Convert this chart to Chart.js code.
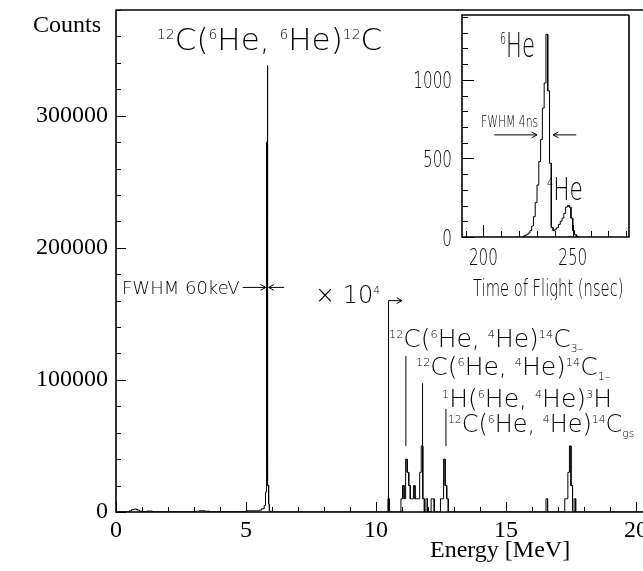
<!DOCTYPE html>
<html>
<head>
<meta charset="utf-8">
<script src="https://cdn.jsdelivr.net/npm/chart.js@4.4.1/dist/chart.umd.min.js"></script>
<style>
  html, body { margin: 0; padding: 0; background: #fff; }
  #wrap { position: relative; width: 643px; height: 571px; overflow: hidden; }
  #main { position: absolute; left: 0; top: 0; }
  #inset { position: absolute; left: 400px; top: 0; }
</style>
</head>
<body>
<div id="wrap">
  <canvas id="main" width="643" height="571"></canvas>
  <canvas id="inset" width="243" height="300"></canvas>
</div>
<script>
// ---- energy spectrum below 6 MeV: bin edges (MeV) and counts
var lowEdges  = [0, 0.5, 0.6, 0.7, 0.8, 0.9, 1.0, 1.2, 1.4, 3.0, 3.2, 3.4, 3.6, 3.8, 5.0,
                 5.5, 5.6, 5.7, 5.75, 5.79, 5.81, 5.84, 5.87, 5.9, 6.0];
var lowCounts = [150, 800, 1800, 2200, 1500, 600, 300, 700, 150, 500, 900, 600, 200, 200,
                 900, 1400, 2500, 5000, 15000, 280000, 338000, 20000, 6000, 500];

// ---- (6He,4He) part, drawn x 10^4: bin start (MeV) and raw counts
var highBinWidth = 0.06;
var highScale = 1e4;
var highStart  = [10.46, 10.96, 11.02, 11.08, 11.14, 11.20, 11.26, 11.32, 11.38, 11.44, 11.50,
                  11.56, 11.62, 11.68, 11.74, 11.80, 11.92, 12.12, 12.18, 12.48, 12.54, 12.60,
                  12.66, 12.72, 16.54, 17.26, 17.32, 17.38, 17.44, 17.50, 17.62];
var highCounts = [1, 1, 2, 1, 4, 3, 2, 1, 1, 2, 1,
                  1, 1, 3, 5, 1, 1, 1, 1, 1, 1, 4,
                  2, 1, 1, 1, 1, 3, 5, 2, 1];

// ---- inset: time of flight, 1 ns bins
var tofStart  = [222, 223, 224, 225, 226, 227, 228, 229, 230, 231, 232, 233, 234, 235, 236,
                 237, 238, 239, 240, 241, 242, 243, 244, 245, 246, 247, 248, 249, 250, 251, 252];
var tofCounts = [5, 10, 15, 25, 40, 70, 130, 220, 330, 480, 620, 820, 980, 1290, 930,
                 470, 60, 40, 50, 60, 80, 100, 120, 150, 190, 200, 190, 120, 40, 15, 5];
var tofBinWidth = 1;

// axis ranges
var energyRange = [0, 20.27];
var countsRange = [0, 380000];
var tofRange = [188, 281.5];
var tofCountRange = [0, 1413];

var SANS = "'DejaVu Sans', sans-serif";
var SERIF = "'Liberation Serif', 'Times New Roman', serif";

// histogram outline from edges/counts
function histFromEdges(edges, counts, scale) {
  var pts = [{x: edges[0], y: 0}];
  for (var i = 0; i < counts.length; i++) {
    pts.push({x: edges[i], y: counts[i] * scale});
    pts.push({x: edges[i + 1], y: counts[i] * scale});
  }
  pts.push({x: edges[edges.length - 1], y: 0});
  return pts;
}
function histFromBins(starts, counts, w, scale) {
  var pts = [];
  for (var i = 0; i < starts.length; i++) {
    var s = starts[i], e = s + w, v = counts[i] * scale;
    var joined = i > 0 && Math.abs(starts[i - 1] + w - s) < 1e-6;
    if (!joined) pts.push({x: s, y: 0});
    pts.push({x: s, y: v});
    pts.push({x: e, y: v});
    var next = i + 1 < starts.length && Math.abs(starts[i + 1] - e) < 1e-6;
    if (!next) pts.push({x: e, y: 0});
  }
  return pts;
}

var spectrum = histFromEdges(lowEdges, lowCounts, 1)
  .concat(histFromBins(highStart, highCounts, highBinWidth, highScale));
spectrum.push({x: energyRange[1], y: 0});
var tof = histFromBins(tofStart, tofCounts, tofBinWidth, 1);

// rich text: ^{..} superscript, _{..} subscript
function drawRich(ctx, str, x, y, size, o) {
  o = o || {};
  var sx = o.sx || 1, fam = o.family || SANS, wt = o.weight || '200';
  var re = /([\^_])\{([^}]*)\}|([^\^_]+)/g, m, parts = [];
  while ((m = re.exec(str))) parts.push(m[3] ? {t: m[3], k: ''} : {t: m[2], k: m[1]});
  ctx.save();
  ctx.translate(x, y);
  ctx.scale(sx, 1);
  ctx.fillStyle = '#000';
  ctx.textBaseline = 'alphabetic';
  ctx.textAlign = 'left';
  var cx = 0;
  parts.forEach(function (p) {
    var s = p.k ? size * 0.45 : size;
    var dy = p.k === '^' ? -size * 0.37 : (p.k === '_' ? size * 0.2 : 0);
    ctx.font = wt + ' ' + s + 'px ' + fam;
    ctx.fillText(p.t, cx, dy);
    cx += ctx.measureText(p.t).width;
  });
  ctx.restore();
}

function arrow(ctx, x1, y1, x2, y2, head) {
  var a = Math.atan2(y2 - y1, x2 - x1), h = head || 6;
  ctx.beginPath();
  ctx.moveTo(x1, y1); ctx.lineTo(x2, y2);
  ctx.moveTo(x2 - h * Math.cos(a - 0.5), y2 - h * Math.sin(a - 0.5));
  ctx.lineTo(x2, y2);
  ctx.lineTo(x2 - h * Math.cos(a + 0.5), y2 - h * Math.sin(a + 0.5));
  ctx.stroke();
}

// inward ticks + frame
function drawFrame(chart, o) {
  var ctx = chart.ctx, a = chart.chartArea, sx = chart.scales.x, sy = chart.scales.y;
  ctx.save();
  ctx.strokeStyle = '#000';
  ctx.lineWidth = o.tickWidth;
  sx.ticks.forEach(function (t) {
    var px = Math.round(sx.getPixelForValue(t.value)) + 0.5;
    var len = o.xMajor(t.value) ? o.majorLen : o.minorLen;
    ctx.beginPath(); ctx.moveTo(px, a.bottom); ctx.lineTo(px, a.bottom - len); ctx.stroke();
  });
  sy.ticks.forEach(function (t) {
    var py = Math.round(sy.getPixelForValue(t.value)) + 0.5;
    var len = o.yMajor(t.value) ? o.majorLen : o.minorLen;
    ctx.beginPath(); ctx.moveTo(a.left, py); ctx.lineTo(a.left + len, py); ctx.stroke();
  });
  ctx.lineWidth = o.frameWidth;
  ctx.beginPath();
  ctx.moveTo(o.topRight, a.top); ctx.lineTo(a.left, a.top);
  ctx.lineTo(a.left, a.bottom); ctx.lineTo(a.right, a.bottom);
  if (o.closed) ctx.lineTo(a.right, a.top);
  ctx.stroke();
  ctx.restore();
}

var mainPlugin = {
  id: 'mainDecor',
  afterDraw: function (chart) {
    var ctx = chart.ctx, sx = chart.scales.x, sy = chart.scales.y;
    drawFrame(chart, {
      tickWidth: 1, frameWidth: 1.6, majorLen: 10, minorLen: 5, topRight: 643, closed: false,
      xMajor: function (v) { return v % 5 === 0; },
      yMajor: function (v) { return v % 100000 === 0; }
    });
    var X = function (v) { return sx.getPixelForValue(v); };
    var Y = function (v) { return sy.getPixelForValue(v); };
    ctx.save();
    ctx.strokeStyle = '#000';
    ctx.lineWidth = 1;
    // x 10^4 marker
    ctx.beginPath();
    ctx.moveTo(X(10.48), Y(0)); ctx.lineTo(X(10.48), Y(160000)); ctx.stroke();
    arrow(ctx, X(10.48), Y(160000), X(11.0), Y(160000), 6);
    // FWHM arrows
    arrow(ctx, X(4.87), Y(170000), X(5.76), Y(170000), 6);
    arrow(ctx, X(6.47), Y(170000), X(5.87), Y(170000), 6);
    // pointer lines under reaction labels
    [[11.15, 118000], [11.79, 97500], [12.69, 78000]].forEach(function (p) {
      ctx.beginPath(); ctx.moveTo(X(p[0]), Y(p[1])); ctx.lineTo(X(p[0]), Y(50000)); ctx.stroke();
    });
    ctx.restore();

    // labels
    ctx.save();
    ctx.fillStyle = '#000';
    ctx.font = '24px ' + SERIF;
    ctx.textBaseline = 'alphabetic';
    ctx.fillText('Counts', 33, 32);
    ctx.fillText('Energy [MeV]', 430, 557);
    ctx.restore();
    drawRich(ctx, '^{12}C(^{6}He, ^{6}He)^{12}C', 157, 50, 31);
    drawRich(ctx, 'FWHM 60keV', 122, 294, 18);
    drawRich(ctx, '\u00d7 10^{4}', 315, 303, 24);
    drawRich(ctx, '^{12}C(^{6}He, ^{4}He)^{14}C_{3\u2013}', 389, 347, 25);
    drawRich(ctx, '^{12}C(^{6}He, ^{4}He)^{14}C_{1\u2013}', 416, 375, 25);
    drawRich(ctx, '^{1}H(^{6}He, ^{4}He)^{3}H', 442, 407, 25);
    drawRich(ctx, '^{12}C(^{6}He, ^{4}He)^{14}C_{gs}', 448, 432, 25, {sx: 0.96});
  }
};

new Chart(document.getElementById('main'), {
  type: 'line',
  data: {
    datasets: [{
      data: spectrum,
      borderColor: '#000',
      borderWidth: 1,
      pointRadius: 0,
      tension: 0,
      fill: false
    }]
  },
  options: {
    responsive: false,
    animation: false,
    devicePixelRatio: 1,
    layout: { padding: { top: 10, right: 0, left: 0, bottom: 0 } },
    plugins: { legend: { display: false }, tooltip: { enabled: false } },
    scales: {
      x: {
        type: 'linear',
        min: energyRange[0], max: energyRange[1],
        grid: { display: false, drawTicks: false },
        border: { display: false },
        ticks: {
          stepSize: 1, includeBounds: false, autoSkip: false, maxRotation: 0,
          padding: 4, color: '#000', font: { family: SERIF, size: 24 },
          callback: function (v) { return v % 5 === 0 ? String(v) : ''; }
        },
        afterFit: function (s) { s.height = 59; s.paddingLeft = 0; s.paddingRight = 0; }
      },
      y: {
        type: 'linear',
        min: countsRange[0], max: countsRange[1],
        grid: { display: false, drawTicks: false },
        border: { display: false },
        ticks: {
          stepSize: 20000, includeBounds: false, autoSkip: false,
          padding: 8, color: '#000', font: { family: SERIF, size: 24 },
          callback: function (v) { return v % 100000 === 0 ? String(v) : ''; }
        },
        afterFit: function (s) { s.width = 116; s.paddingTop = 0; s.paddingBottom = 0; }
      }
    }
  },
  plugins: [mainPlugin]
});

// ---- inset
var insetPlugin = {
  id: 'insetDecor',
  afterDraw: function (chart) {
    var ctx = chart.ctx, sx = chart.scales.x, sy = chart.scales.y, a = chart.chartArea;
    drawFrame(chart, {
      tickWidth: 1, frameWidth: 1.6, majorLen: 12, minorLen: 6, topRight: a.right, closed: true,
      xMajor: function (v) { return v % 50 === 0; },
      yMajor: function (v) { return v % 500 === 0; }
    });
    var X = function (v) { return sx.getPixelForValue(v); };
    var Y = function (v) { return sy.getPixelForValue(v); };
    var cond = 0.66;
    ctx.save();
    ctx.font = '200 23px ' + SANS;
    sy.ticks.forEach(function (t) {
      if (t.value % 500 !== 0) return;
      var s = String(t.value), w = ctx.measureText(s).width * cond;
      drawRich(ctx, s, a.left - 10 - w, Y(t.value) + 8.5, 23, {sx: cond});
    });
    sx.ticks.forEach(function (t) {
      if (t.value % 50 !== 0) return;
      var s = String(t.value), w = ctx.measureText(s).width * cond;
      drawRich(ctx, s, X(t.value) - w / 2, a.bottom + 28, 23, {sx: cond});
    });
    ctx.strokeStyle = '#000';
    ctx.lineWidth = 1;
    arrow(ctx, X(206), Y(650), X(230), Y(650), 6);
    arrow(ctx, X(252), Y(650), X(239), Y(650), 6);
    ctx.restore();
    drawRich(ctx, '^{6}He', 100, 57, 34, {sx: 0.62});
    drawRich(ctx, '^{4}He', 147, 200, 32, {sx: 0.68});
    drawRich(ctx, 'FWHM 4ns', 81, 127, 15, {sx: 0.72});
    drawRich(ctx, 'Time of Flight (nsec)', 73, 296, 23, {sx: 0.64});
  }
};

new Chart(document.getElementById('inset'), {
  type: 'line',
  data: {
    datasets: [{
      data: tof,
      borderColor: '#000',
      borderWidth: 1,
      pointRadius: 0,
      tension: 0,
      fill: false
    }]
  },
  options: {
    responsive: false,
    animation: false,
    devicePixelRatio: 1,
    layout: { padding: { top: 15, right: 14, left: 0, bottom: 0 } },
    plugins: { legend: { display: false }, tooltip: { enabled: false } },
    scales: {
      x: {
        type: 'linear',
        min: tofRange[0], max: tofRange[1],
        grid: { display: false, drawTicks: false },
        border: { display: false },
        ticks: { display: false, stepSize: 10, includeBounds: false },
        afterFit: function (s) { s.height = 63; s.paddingLeft = 0; s.paddingRight = 0; }
      },
      y: {
        type: 'linear',
        min: tofCountRange[0], max: tofCountRange[1],
        grid: { display: false, drawTicks: false },
        border: { display: false },
        ticks: { display: false, stepSize: 100, includeBounds: false },
        afterFit: function (s) { s.width = 62; s.paddingTop = 0; s.paddingBottom = 0; }
      }
    }
  },
  plugins: [insetPlugin]
});
</script>
</body>
</html>
